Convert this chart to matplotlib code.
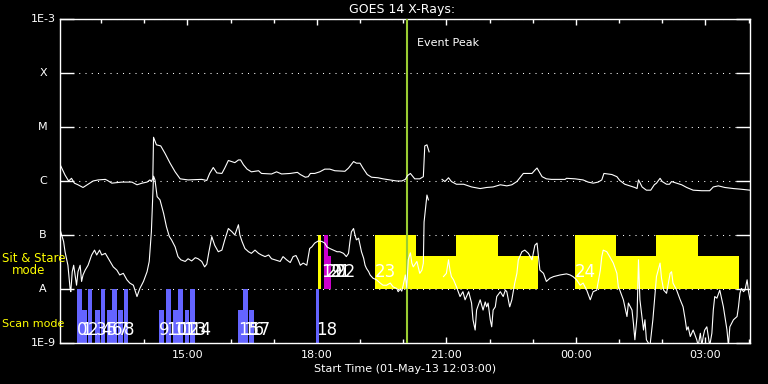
import numpy as np
import matplotlib.pyplot as plt
from matplotlib.transforms import blended_transform_factory
from matplotlib.ticker import NullLocator

plt.switch_backend('Agg')

# ---------- data : minutes after 01-May-13 12:03:00, log10 flux (W/m^2) ----------
long_t = [1, 7, 12, 16, 20, 25, 32, 39, 46, 53,
          63, 66, 72, 86, 100, 107, 114, 121, 125, 127,
          129, 130, 134, 140, 146, 153, 160, 167, 178, 197,
          204, 208, 213, 218, 225, 229, 234, 243, 248, 251,
          255, 260, 266, 276, 280, 294, 301, 308, 320, 330,
          334, 341, 345, 348, 354, 361, 368, 375, 382, 396,
          401, 408, 412, 417, 421, 427, 433, 442, 449, 459,
          468, 475, 480, 483, 487, 493, 500, 505, 507, 510,
          513, 522, 531, 535, 540, 544, 551, 561, 572, 584,
          593, 602, 612, 621, 628, 635, 644, 656, 660, 663,
          666, 670, 676, 683, 702, 704, 716, 727, 734, 741,
          748, 753, 756, 767, 774, 778, 785, 792, 799, 802,
          804, 806, 809, 815, 821, 826, 829, 834, 837, 843,
          847, 850, 857, 864, 871, 880, 892, 903, 908, 915,
          924, 936, 945, 959]
long_log = [-5.72, -5.89, -6.00, -5.95, -6.04, -6.07, -6.12, -6.06, -6.00, -5.98,
            -5.97, -5.99, -6.04, -6.02, -6.02, -6.07, -6.04, -6.02, -5.98, -6.01,
            -5.95, -5.19, -5.33, -5.35, -5.49, -5.67, -5.83, -5.96, -5.98, -5.97,
            -5.99, -5.86, -5.75, -5.85, -5.86, -5.76, -5.62, -5.66, -5.61, -5.61,
            -5.70, -5.78, -5.83, -5.81, -5.86, -5.87, -5.83, -5.87, -5.86, -5.84,
            -5.88, -5.93, -5.92, -5.86, -5.86, -5.83, -5.78, -5.78, -5.81, -5.82,
            -5.76, -5.64, -5.67, -5.67, -5.76, -5.88, -5.93, -5.94, -5.96, -5.98,
            -6.00, -6.00, -5.97, -5.90, -5.86, -5.96, -5.96, -5.92, -5.35, -5.33,
            -5.46, np.nan, -5.97, -6.01, -5.94, -6.01, -6.06, -6.06, -6.11, -6.14,
            -6.12, -6.11, -6.07, -6.09, -6.07, -6.01, -5.86, -5.86, -5.80, -5.76,
            -5.83, -5.92, -5.96, -5.97, -5.97, -5.95, -5.96, -5.98, -6.02, -6.04,
            -6.02, -5.98, -5.86, -5.88, -5.92, -5.99, -6.06, -6.09, -6.12, -6.14,
            -5.98, -6.03, -6.11, -6.17, -6.17, -6.07, -6.04, -5.95, -6.01, -6.06,
            -6.06, -6.01, -6.04, -6.07, -6.12, -6.17, -6.18, -6.18, -6.11, -6.09,
            -6.12, -6.14, -6.15, -6.17]

short_t = [1, 5, 7, 11, 14, 15, 17, 19, 21, 23,
           25, 28, 30, 32, 35, 39, 44, 48, 51, 55,
           58, 63, 67, 74, 79, 83, 88, 93, 97, 102,
           107, 111, 116, 121, 124, 127, 130, 132, 135, 139,
           144, 148, 152, 155, 160, 164, 168, 174, 178, 183,
           188, 192, 197, 201, 204, 207, 211, 215, 220, 225,
           229, 234, 239, 243, 248, 250, 253, 257, 262, 266,
           271, 276, 280, 285, 290, 294, 299, 306, 310, 315,
           320, 324, 328, 331, 334, 338, 343, 347, 350, 354,
           359, 364, 368, 371, 375, 380, 385, 389, 394, 398,
           401, 403, 405, 408, 410, 412, 415, 417, 419, 422,
           424, 426, 429, 431, 435, 440, 445, 449, 454, 459,
           463, 468, 470, 473, 475, 477, 480, 482, 484, 487,
           489, 491, 496, 500, 503, 505, 506, 510, 512, 522,
           533, 537, 540, 542, 544, 547, 551, 556, 560, 563,
           568, 572, 574, 577, 579, 584, 588, 591, 593, 595,
           598, 600, 602, 605, 607, 612, 616, 619, 621, 625,
           628, 630, 632, 635, 637, 642, 646, 651, 656, 660,
           663, 665, 667, 672, 676, 681, 686, 695, 704, 709,
           713, 718, 723, 727, 732, 737, 741, 746, 751, 753,
           755, 760, 764, 769, 774, 776, 778, 783, 788, 790,
           795, 797, 799, 802, 804, 806, 811, 813, 815, 820,
           824, 827, 829, 834, 836, 839, 843, 848, 850, 852,
           857, 862, 866, 869, 871, 873, 876, 880, 885, 887,
           890, 892, 894, 896, 899, 903, 906, 908, 910, 913,
           917, 922, 927, 929, 931, 936, 941, 943, 945, 947,
           950, 952, 955, 957, 959]
short_log = [-6.94, -7.12, -7.31, -7.56, -7.99, -8.05, -7.68, -7.56, -7.74, -7.93,
             -7.68, -7.56, -7.86, -7.74, -7.65, -7.56, -7.37, -7.28, -7.37, -7.28,
             -7.37, -7.34, -7.43, -7.59, -7.65, -7.74, -7.71, -7.83, -7.89, -7.93,
             -8.14, -7.99, -7.86, -7.68, -7.49, -6.94, -5.91, -5.98, -6.29, -6.35,
             -6.60, -6.85, -7.03, -7.09, -7.22, -7.40, -7.46, -7.49, -7.44, -7.48,
             -7.42, -7.44, -7.49, -7.59, -7.54, -7.31, -7.03, -7.19, -7.31, -7.28,
             -7.09, -6.88, -6.94, -7.00, -6.81, -7.00, -7.12, -7.25, -7.31, -7.34,
             -7.28, -7.34, -7.37, -7.40, -7.37, -7.44, -7.46, -7.49, -7.40, -7.46,
             -7.51, -7.40, -7.38, -7.46, -7.56, -7.52, -7.56, -7.25, -7.22, -7.15,
             -7.11, -7.12, -7.15, -7.22, -7.25, -7.28, -7.31, -7.31, -7.34, -7.40,
             -7.34, -7.12, -6.94, -6.88, -7.00, -7.09, -7.06, -7.19, -7.31, -7.43,
             -7.56, -7.62, -7.68, -7.74, -7.80, -7.83, -7.89, -7.93, -7.93, -7.89,
             -7.96, -7.99, -8.05, -8.00, -8.04, -7.93, -7.74, -7.99, -7.46, -7.33,
             -7.52, -7.59, -7.49, -7.71, -7.65, -7.52, -6.76, -6.26, -6.35, np.nan,
             -7.77, -7.71, -7.46, -7.65, -7.77, -7.83, -7.96, -8.14, -8.05, -8.20,
             -8.05, -8.26, -8.57, -8.76, -8.39, -8.20, -8.39, -8.24, -8.33, -8.26,
             -8.57, -8.70, -8.39, -8.33, -8.14, -8.05, -8.14, -8.02, -8.05, -8.33,
             -8.20, -8.05, -7.89, -7.71, -7.46, -7.31, -7.28, -7.34, -7.46, -7.19,
             -7.15, -7.40, -7.65, -7.71, -7.86, -7.80, -7.77, -7.74, -7.72, -7.74,
             -7.77, -7.83, -7.93, -7.89, -8.02, -8.20, -8.05, -8.02, -7.65, -7.40,
             -7.28, -7.31, -7.40, -7.52, -7.71, -7.96, -8.02, -8.20, -8.51, -8.26,
             -8.39, -8.64, -8.94, -8.51, -7.46, -8.20, -8.76, -8.57, -8.94, -9.05,
             -8.57, -8.08, -7.77, -7.52, -7.80, -8.02, -8.08, -7.71, -7.68, -7.89,
             -8.02, -8.20, -8.33, -8.57, -8.76, -8.70, -8.88, -8.76, -8.94, -9.05,
             -8.82, -9.05, -8.88, -8.76, -8.70, -9.05, -8.82, -8.39, -8.14, -8.17,
             -8.02, -8.33, -8.76, -9.05, -8.70, -8.57, -8.51, -8.33, -8.08, -7.99,
             -8.05, -8.02, -7.83, -8.05, -8.20]

# scan mode observations
scan_labels = [str(i) for i in range(19)]
scan_start = [24, 30, 39, 49, 57, 65, 72, 80, 89, 138, 147, 157, 164, 174, 181, 247, 254, 263, 356]
scan_end = [30, 38, 45, 56, 63, 72, 79, 88, 94, 145, 154, 164, 171, 179, 188, 254, 261, 270, 360]
scan_top = [1e-8, 4e-9, 1e-8, 4e-9, 1e-8, 4e-9, 1e-8, 4e-9, 1e-8, 4e-9,
            1e-8, 4e-9, 1e-8, 4e-9, 1e-8, 4e-9, 1e-8, 4e-9, 1e-8]

# sit & stare observations
ss_start = [359, 367, 372, 438, 495, 550, 609, 716, 773, 828, 887]
ss_end = [363, 372, 377, 495, 550, 609, 664, 773, 828, 887, 944]
ss_top = [1e-7, 1e-7, 4e-8, 1e-7, 4e-8, 1e-7, 4e-8, 1e-7, 4e-8, 1e-7, 4e-8]
ss_color = ['#ffff00', '#cc00cc', '#cc00cc'] + ['#ffff00'] * 8
ss_labels = ['19', '20', '21', '22', '23', '24']
ss_label_t = [363, 370, 375, 382, 438, 716]

event_peak = 482
tick_pos = [177, 357, 537, 717, 897]
tick_labels = ['15:00', '18:00', '21:00', '00:00', '03:00']
goes_levels = [1e-9, 1e-8, 1e-7, 1e-6, 1e-5, 1e-4, 1e-3]
goes_names = ['1E-9', 'A', 'B', 'C', 'M', 'X', '1E-3']

# ---------- figure ----------
W, H = 768, 384
fig = plt.figure(figsize=(W / 100, H / 100), dpi=100, facecolor='black')
ax = fig.add_axes([60 / W, 41 / H, 690 / W, 324 / H], facecolor='black')
ax.set_yscale('log')
ax.set_xlim(0, 959)
ax.set_ylim(1e-9, 1e-3)

ax.bar(scan_start, np.array(scan_top) - 1e-9, width=np.subtract(scan_end, scan_start),
       bottom=1e-9, align='edge', color='#6464ff', linewidth=0, zorder=2)
ax.bar(ss_start, np.array(ss_top) - 1e-8, width=np.subtract(ss_end, ss_start),
       bottom=1e-8, align='edge', color=ss_color, linewidth=0, zorder=2)

ax.axvline(event_peak, color='#9acd32', lw=1.5, zorder=3)
ax.text(event_peak + 14, 10 ** -3.45, 'Event Peak', color='white', fontsize=8,
        ha='left', va='center')

ax.plot(long_t, 10 ** np.array(long_log), color='white', lw=0.8, zorder=4)
ax.plot(short_t, 10 ** np.array(short_log), color='white', lw=0.8, zorder=4)

num_font = ['Liberation Sans Narrow', 'DejaVu Sans']
for lab, t in zip(scan_labels, scan_start):
    ax.text(t, 10 ** -8.76, lab, color='white', fontsize=12, ha='left', va='center',
            family=num_font, zorder=5)
for lab, t in zip(ss_labels, ss_label_t):
    ax.text(t, 10 ** -7.69, lab, color='white', fontsize=12, ha='left', va='center',
            family=num_font, zorder=5)

# axes styling
for s in ax.spines.values():
    s.set_color('white')
    s.set_linewidth(1)
ax.set_yticks(goes_levels)
ax.yaxis.set_minor_locator(NullLocator())
ax.set_yticklabels([])
ax.yaxis.grid(True, color='white', ls=(0, (1, 5)), lw=0.75)
ax.tick_params(axis='y', which='major', direction='in', length=10, width=1,
               color='white', left=True, right=True)
ax.set_xticks(tick_pos)
ax.set_xticklabels(tick_labels)
ax.set_xticks(np.arange(57, 959, 60), minor=True)
ax.tick_params(axis='x', which='major', direction='in', length=4.5, width=1,
               colors='white', top=True, bottom=True, labelsize=8, pad=5)
ax.tick_params(axis='x', which='minor', direction='in', length=3, width=1,
               color='white', top=True, bottom=True)

tr = blended_transform_factory(ax.transAxes, ax.transData)
for lev, name in zip(goes_levels, goes_names):
    ax.text(-17 / 690, lev, name, transform=tr, color='white', fontsize=8,
            ha='center', va='center')

fig.text(402 / W, 1 - 9 / H, 'GOES 14 X-Rays:', color='white', fontsize=9,
         ha='center', va='center')
fig.text(405 / W, 1 - 369 / H, 'Start Time (01-May-13 12:03:00)', color='white',
         fontsize=8, ha='center', va='center')
fig.text(2 / W, 1 - 259 / H, 'Sit & Stare', color='#ffff00', fontsize=8.5, ha='left', va='center')
fig.text(12 / W, 1 - 271 / H, 'mode', color='#ffff00', fontsize=8.5, ha='left', va='center')
fig.text(2 / W, 1 - 324 / H, 'Scan mode', color='#ffff00', fontsize=8, ha='left', va='center')

fig.savefig('out.png', dpi=100, facecolor='black')
